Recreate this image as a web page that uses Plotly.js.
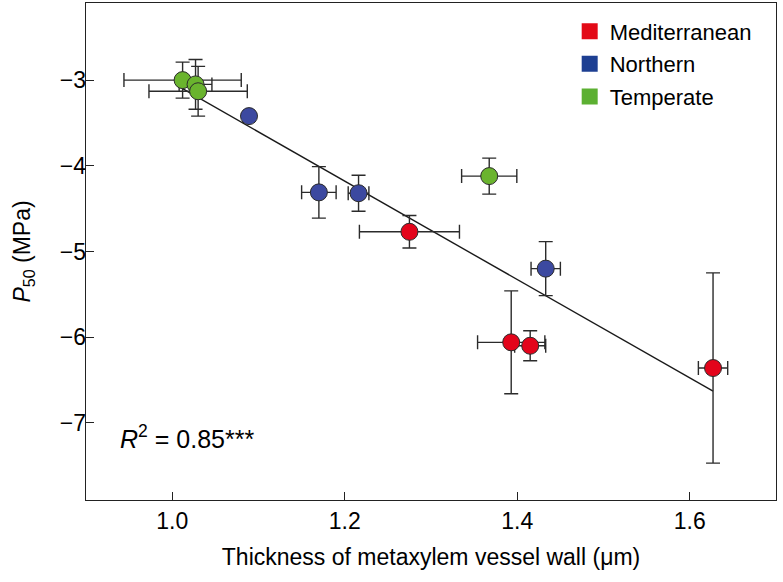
<!DOCTYPE html>
<html>
<head>
<meta charset="utf-8">
<script src="https://cdn.plot.ly/plotly-3.0.1.min.js"></script>
<style>
  body { margin: 0; background: #fff; }
  #chart { width: 783px; height: 582px; }
</style>
</head>
<body>
<div id="chart"></div>
<script>
// values
var medX = [1.275, 1.393, 1.415, 1.627]
var medY = [-4.77, -6.06, -6.10, -6.36]
var medXErr = [0.058, 0.039, 0.018, 0.017]
var medYErr = [0.19, 0.60, 0.175, 1.11]

var norX = [1.089, 1.170, 1.216, 1.433]
var norY = [-3.42, -4.31, -4.32, -5.20]
var norXErr = [0, 0.020, 0.012, 0.017]
var norYErr = [0, 0.30, 0.21, 0.315]

var temX = [1.012, 1.027, 1.030, 1.3675]
var temY = [-3.00, -3.05, -3.13, -4.12]
var temXErr = [0.068, 0.019, 0.057, 0.032]
var temYErr = [0.21, 0.29, 0.29, 0.21]

// regression line ends
var fitX = [1.012, 1.627]
var fitY = [-3.10, -6.63]

var xTicks = [1.0, 1.2, 1.4, 1.6]
var xTickText = ['1.0', '1.2', '1.4', '1.6']
var yTicks = [-7, -6, -5, -4, -3]

var groupNames = ['Mediterranean', 'Northern', 'Temperate']
var markerColors = ['#e3041b', '#3c49a0', '#6ab42e']
var legendColors = ['#e30a17', '#1d3f92', '#5cb032']

var errStyle = { type: 'data', color: '#2b2b2b', thickness: 1.4, width: 7 }

function groupTrace (x, y, ex, ey, color) {
  return {
    type: 'scatter',
    mode: 'markers',
    x: x,
    y: y,
    showlegend: false,
    hoverinfo: 'skip',
    error_x: Object.assign({ array: ex }, errStyle),
    error_y: Object.assign({ array: ey }, errStyle),
    marker: { size: 17, color: color, line: { color: '#2b2b2b', width: 1 } }
  }
}

var data = [
  {
    type: 'scatter',
    mode: 'lines',
    x: fitX,
    y: fitY,
    showlegend: false,
    hoverinfo: 'skip',
    line: { color: '#1a1a1a', width: 1.4 }
  },
  groupTrace(medX, medY, medXErr, medYErr, markerColors[0]),
  groupTrace(norX, norY, norXErr, norYErr, markerColors[1]),
  groupTrace(temX, temY, temXErr, temYErr, markerColors[2])
]

// legend entries
for (var i = 0; i < groupNames.length; i++) {
  data.push({
    type: 'scatter',
    mode: 'markers',
    x: [null],
    y: [null],
    name: groupNames[i],
    legendgroup: 'g' + i,
    marker: { symbol: 'square', size: 18, color: legendColors[i] }
  })
}

var fam = 'Liberation Sans, Arial, sans-serif'
var axisFont = { family: fam, size: 23, color: '#000' }

var layout = {
  width: 783,
  height: 582,
  margin: { l: 86, r: 7, t: 3, b: 82 },
  paper_bgcolor: '#fff',
  plot_bgcolor: '#fff',
  font: axisFont,
  xaxis: {
    range: [0.9, 1.7],
    tickvals: xTicks,
    ticktext: xTickText,
    ticks: 'inside',
    ticklen: 8,
    tickwidth: 1.2,
    tickcolor: '#222',
    showgrid: false,
    zeroline: false,
    showline: true,
    mirror: true,
    linecolor: '#222',
    linewidth: 1.3,
    tickfont: axisFont,
    title: { text: 'Thickness of metaxylem vessel wall (μm)', font: axisFont, standoff: 16 }
  },
  yaxis: {
    range: [-7.9, -2.1],
    tickvals: yTicks,
    ticks: 'inside',
    ticklen: 8,
    tickwidth: 1.2,
    tickcolor: '#222',
    ticklabelstandoff: -6,
    showgrid: false,
    zeroline: false,
    showline: true,
    mirror: true,
    linecolor: '#222',
    linewidth: 1.3,
    tickfont: axisFont,
    title: { text: '<i>P</i><sub>50</sub> (MPa)', font: axisFont, standoff: 22 }
  },
  legend: {
    x: 0.701,
    y: 0.985,
    xanchor: 'left',
    yanchor: 'top',
    bgcolor: 'rgba(0,0,0,0)',
    tracegroupgap: 1,
    font: { family: fam, size: 22, color: '#000' }
  },
  annotations: [
    {
      x: 0.937,
      y: -7.16,
      xref: 'x',
      yref: 'y',
      xanchor: 'left',
      yanchor: 'middle',
      showarrow: false,
      text: '<i>R</i><sup>2</sup> = 0.85***',
      font: { family: fam, size: 25, color: '#000' }
    }
  ]
}

Plotly.newPlot('chart', data, layout, { displayModeBar: false, staticPlot: true })
</script>
</body>
</html>
